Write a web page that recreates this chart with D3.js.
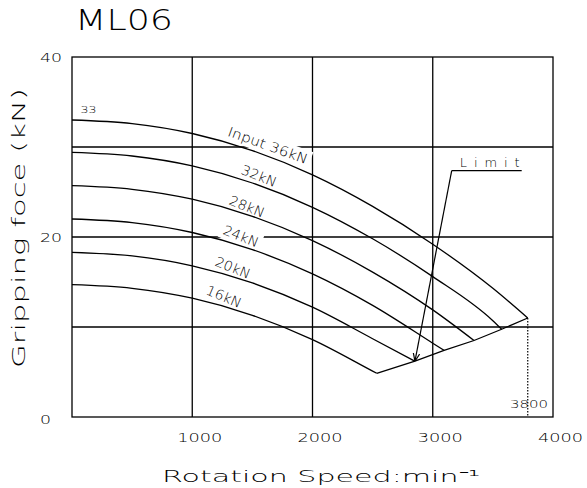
<!DOCTYPE html>
<meta charset="utf-8">
<script src="https://d3js.org/d3.v7.min.js"></script>
<style>
body { margin: 0; background: #fff; }
text { font-family: "DejaVu Sans", sans-serif; font-weight: 200; fill: #000; }
.grid line { stroke: #000; stroke-width: 1.3px; }
.axis path, .axis line { display: none; }
.curve { fill: none; stroke: #000; stroke-width: 1.3px; }
</style>
<body></body>
<script>
// values
var rpm = [0, 500, 1000, 1500, 2000, 2500, 3000, 3500];
var inputs = ["Input 36kN", "32kN", "28kN", "24kN", "20kN", "16kN"];
var f36 = [33.0, 32.6, 31.5, 29.6, 26.9, 23.4, 19.2, 14.3];
var f32 = [29.4, 29.0, 27.9, 26.0, 23.3, 19.8, 15.6, 10.7];
var f28 = [25.7, 25.3, 24.2, 22.3, 19.6, 16.1, 11.9];
var f24 = [22.0, 21.6, 20.5, 18.6, 15.9, 12.4, 8.2];
var f20 = [18.3, 17.9, 16.8, 14.9, 12.2, 8.7];
var f16 = [14.7, 14.3, 13.2, 11.3, 8.6, 5.1];
var endRpm = [3790, 3573, 3343, 3094, 2852, 2534];
var endForce = [11.0, 9.75, 8.5, 7.4, 6.2, 4.86];
var xTicks = [1000, 2000, 3000, 4000];
var yTicks = [0, 20, 40];
var yGrid = [10, 20, 30];
var maxRpm = 3800;

// where the curve labels sit (rpm, kN, angle)
var labelAt = [[1630, 30.2, 20], [1555, 26.8, 22], [1455, 23.4, 22], [1405, 20.1, 22], [1338, 16.6, 22], [1264, 13.4, 23]];
var labelLen = [84, 37, 37, 37, 37, 37];

var forces = [f36, f32, f28, f24, f20, f16];
var series = forces.map(function(f, i) {
  var pts = f.map(function(v, j) { return [rpm[j], v]; })
    .filter(function(p) { return p[0] < endRpm[i]; });
  pts.push([endRpm[i], endForce[i]]);
  return pts;
});
var limit = endRpm.map(function(r, i) { return [r, endForce[i]]; }).reverse();

var margin = {top: 57, right: 34, bottom: 71, left: 72};
var width = 587 - margin.left - margin.right,
    height = 488 - margin.top - margin.bottom;

var root = d3.select("body").append("svg")
    .attr("width", 587)
    .attr("height", 488);
root.append("rect").attr("width", 587).attr("height", 488).attr("fill", "#fff");

var svg = root.append("g")
    .attr("transform", "translate(" + margin.left + "," + margin.top + ")");

var x = d3.scaleLinear().domain([0, 4000]).range([0, width]);
var y = d3.scaleLinear().domain([0, 40]).range([height, 0]);

// gridlines
var grid = svg.append("g").attr("class", "grid");
grid.selectAll(".gx").data(xTicks.slice(0, 3)).enter().append("line")
  .attr("x1", function(d) { return x(d); }).attr("x2", function(d) { return x(d); })
  .attr("y1", 0).attr("y2", height);
grid.selectAll(".gy").data(yGrid).enter().append("line")
  .attr("y1", function(d) { return y(d); }).attr("y2", function(d) { return y(d); })
  .attr("x1", 0).attr("x2", width);

// white patches behind curve labels (they cut the gridlines)
var labels = svg.selectAll(".lbl").data(inputs).enter().append("g")
  .attr("class", "lbl")
  .attr("transform", function(d, i) {
    return "translate(" + x(labelAt[i][0]) + "," + y(labelAt[i][1]) + ") rotate(" + labelAt[i][2] + ")";
  });
labels.append("rect")
  .attr("x", function(d, i) { return -labelLen[i] / 2 - 3; })
  .attr("y", -9)
  .attr("width", function(d, i) { return labelLen[i] + 6; })
  .attr("height", 18)
  .attr("fill", "#fff");

// frame
svg.append("rect")
  .attr("width", width).attr("height", height)
  .attr("fill", "none").attr("stroke", "#000").attr("stroke-width", 1.3);

var line = d3.line()
  .x(function(d) { return x(d[0]); })
  .y(function(d) { return y(d[1]); })
  .curve(d3.curveMonotoneX);

svg.selectAll(".curve").data(series).enter().append("path")
  .attr("class", "curve")
  .attr("d", line);

svg.append("path")
  .attr("class", "curve")
  .attr("d", d3.line().x(function(d) { return x(d[0]); }).y(function(d) { return y(d[1]); })(limit));

// dotted drop at max speed
svg.append("line")
  .attr("x1", x(endRpm[0])).attr("x2", x(endRpm[0]))
  .attr("y1", y(endForce[0])).attr("y2", height)
  .attr("stroke", "#000").attr("stroke-width", 1.2)
  .attr("stroke-dasharray", "1.5,1.5");

labels.append("text")
  .attr("text-anchor", "middle")
  .attr("dy", "0.36em")
  .attr("font-size", 13.5)
  .attr("textLength", function(d, i) { return labelLen[i]; })
  .attr("lengthAdjust", "spacingAndGlyphs")
  .text(function(d) { return d; });

// axes
var xAxis = svg.append("g").attr("class", "axis")
  .attr("transform", "translate(0," + height + ")")
  .call(d3.axisBottom(x).tickValues(xTicks).tickSize(0).tickFormat(d3.format("d")));
xAxis.selectAll("text")
  .attr("font-size", 12.5).attr("dx", 7).attr("y", 25).attr("dy", 0)
  .attr("textLength", 45).attr("lengthAdjust", "spacingAndGlyphs");

var yAxis = svg.append("g").attr("class", "axis")
  .call(d3.axisLeft(y).tickValues(yTicks).tickSize(0));
yAxis.selectAll("text")
  .attr("font-size", 12.5).attr("text-anchor", "start")
  .attr("x", -32).attr("dy", "0.38em")
  .attr("textLength", function(d) { return String(d).length * 11; })
  .attr("lengthAdjust", "spacingAndGlyphs");
yAxis.selectAll(".tick").filter(function(d) { return d === 0; }).select("text").attr("dy", "0.55em");

// small annotations
svg.append("text")
  .attr("x", x(70)).attr("y", y(33.8))
  .attr("font-size", 9).attr("font-weight", 700)
  .attr("textLength", 16).attr("lengthAdjust", "spacingAndGlyphs")
  .text(f36[0]);

svg.append("text")
  .attr("x", x(maxRpm)).attr("y", y(1.0))
  .attr("text-anchor", "middle")
  .attr("font-size", 11).attr("font-weight", 700)
  .attr("textLength", 38).attr("lengthAdjust", "spacingAndGlyphs")
  .text(maxRpm);

// Limit callout
var limX0 = 451.7 - margin.left, limY0 = 170.7 - margin.top;
svg.append("text")
  .attr("x", limX0 + 8).attr("y", limY0 - 4)
  .attr("font-size", 13)
  .attr("textLength", 60).attr("lengthAdjust", "spacing")
  .text("Limit");
svg.append("line")
  .attr("x1", limX0).attr("x2", limX0 + 70)
  .attr("y1", limY0).attr("y2", limY0)
  .attr("stroke", "#000").attr("stroke-width", 1.2);

svg.append("defs").append("marker")
  .attr("id", "arr").attr("viewBox", "0 0 10 10")
  .attr("refX", 10).attr("refY", 5)
  .attr("markerWidth", 8).attr("markerHeight", 8)
  .attr("markerUnits", "userSpaceOnUse")
  .attr("orient", "auto")
  .append("path").attr("d", "M0,1 L10,5 L0,9").attr("fill", "none").attr("stroke", "#000").attr("stroke-width", 1.5);

svg.append("line")
  .attr("x1", limX0).attr("y1", limY0)
  .attr("x2", x(endRpm[4])).attr("y2", y(endForce[4]))
  .attr("stroke", "#000").attr("stroke-width", 1.2)
  .attr("marker-end", "url(#arr)");

// titles
root.append("text")
  .attr("x", 75).attr("y", 30)
  .attr("font-size", 29)
  .attr("textLength", 98).attr("lengthAdjust", "spacingAndGlyphs")
  .text("ML06");

root.append("text")
  .attr("x", 162).attr("y", 482)
  .attr("font-size", 16)
  .attr("textLength", 318).attr("lengthAdjust", "spacingAndGlyphs")
  .text("Rotation Speed:min\u207B\u00B9");

root.append("text")
  .attr("transform", "translate(25,228) rotate(-90)")
  .attr("text-anchor", "middle")
  .attr("font-size", 17)
  .attr("textLength", 280).attr("lengthAdjust", "spacingAndGlyphs")
  .text("Gripping foce (kN)");
</script>
